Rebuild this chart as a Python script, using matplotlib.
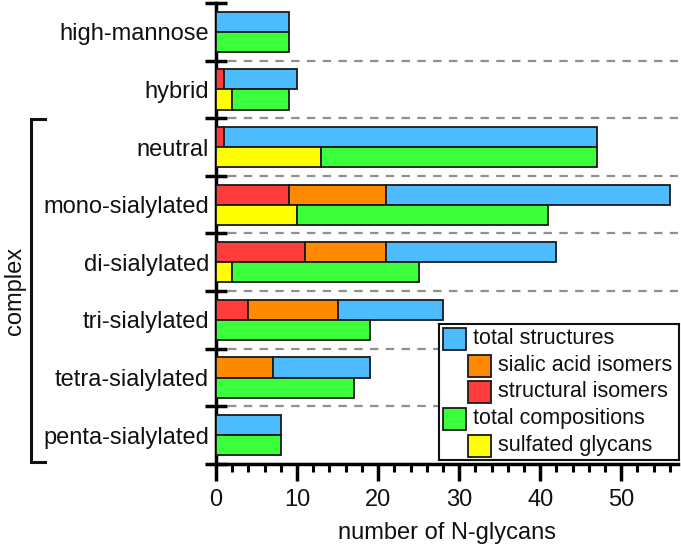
import numpy as np
import matplotlib
matplotlib.use('Agg')
import matplotlib.pyplot as plt
from matplotlib.patches import Rectangle
from matplotlib.ticker import MultipleLocator, FixedLocator

plt.rcParams['font.family'] = ['Liberation Sans', 'DejaVu Sans']

categories = ['high-mannose', 'hybrid', 'neutral', 'mono-sialylated',
              'di-sialylated', 'tri-sialylated', 'tetra-sialylated',
              'penta-sialylated']
structural_isomers = [0, 1, 1, 9, 11, 4, 0, 0]
sialic_acid_isomers = [0, 0, 0, 12, 10, 11, 7, 0]
total_structures = [9, 10, 47, 56, 42, 28, 19, 8]
sulfated_glycans = [0, 2, 13, 10, 2, 0, 0, 0]
total_compositions = [9, 9, 47, 41, 25, 19, 17, 8]

BLUE = '#4dbcff'
ORANGE = '#ff8a00'
RED = '#ff3c3c'
GREEN = '#3cff3c'
YELLOW = '#ffff00'

legend_items = [('total structures', BLUE, False),
                ('sialic acid isomers', ORANGE, True),
                ('structural isomers', RED, True),
                ('total compositions', GREEN, False),
                ('sulfated glycans', YELLOW, True)]

FS = 17
EDGE = dict(edgecolor='#1a1a1a', linewidth=1.3)


def draw_segments(ax, y, left, width, color):
    y = np.asarray(y, float)
    width = np.asarray(width, float)
    left = np.broadcast_to(np.asarray(left, float), width.shape)
    keep = width > 0
    ax.barh(y[keep], width[keep], left=left[keep], height=0.35,
            color=color, zorder=3, **EDGE)


fig = plt.figure(figsize=(6.81, 5.46), dpi=100)
ax = fig.add_axes([0.3172, 0.1502, 0.6784, 0.8443])

pos = np.arange(len(categories))
top = pos - 0.175
bot = pos + 0.175

red = np.array(structural_isomers)
orange = np.array(sialic_acid_isomers)
blue_total = np.array(total_structures)
yellow = np.array(sulfated_glycans)
green_total = np.array(total_compositions)

draw_segments(ax, top, 0, red, RED)
draw_segments(ax, top, red, orange, ORANGE)
draw_segments(ax, top, red + orange, blue_total - red - orange, BLUE)
draw_segments(ax, bot, 0, yellow, YELLOW)
draw_segments(ax, bot, yellow, green_total - yellow, GREEN)

ax.set_xlim(0, 57)
ax.set_ylim(len(categories) - 0.5, -0.5)

# separators between groups
for b in np.arange(0.5, len(categories) - 0.5):
    ax.axhline(b, xmin=0.025, xmax=1.0, color='#909090', lw=1.6,
               dashes=(3.8, 3.3), zorder=1, clip_on=False)

for s in ['top', 'right']:
    ax.spines[s].set_visible(False)
for s in ['left', 'bottom']:
    ax.spines[s].set_linewidth(2.5)
    ax.spines[s].set_color('black')

ax.xaxis.set_major_locator(MultipleLocator(10))
ax.xaxis.set_minor_locator(MultipleLocator(2))
ax.tick_params(axis='x', which='major', direction='out', length=12, width=2.5,
               labelsize=FS, pad=6, colors='black', labelcolor='#111111')
ax.tick_params(axis='x', which='minor', direction='out', length=6, width=2.2)

ax.yaxis.set_major_locator(FixedLocator(np.arange(-0.5, len(categories))))
ax.yaxis.set_major_formatter(plt.NullFormatter())
ax.yaxis.set_minor_locator(FixedLocator(pos))
ax.set_yticklabels(categories, minor=True)
ax.tick_params(axis='y', which='major', direction='inout', length=16, width=2.5)
ax.tick_params(axis='y', which='minor', length=0, labelsize=FS, pad=5,
               labelcolor='#111111')

ax.set_xlabel('number of N-glycans', fontsize=FS, color='#111111', labelpad=8)

# bracket for complex glycans
tr = ax.get_yaxis_transform()
ax.plot([-0.370, -0.400, -0.400, -0.370], [1.52, 1.52, 7.47, 7.47],
        transform=tr, color='#111111', lw=2.2, clip_on=False,
        solid_joinstyle='miter')
ax.text(-0.435, 4.5, 'complex', transform=tr, rotation=90, fontsize=FS,
        ha='center', va='center', color='#111111')

# legend with indented sub-entries
lg = ax.inset_axes([0.4827, 0.0087, 0.5195, 0.295])
lg.set_xlim(0, 240)
lg.set_ylim(136, 0)
lg.set_xticks([])
lg.set_yticks([])
for s in lg.spines.values():
    s.set_linewidth(1.5)
    s.set_color('#111111')
row_y = [15, 42, 68, 95, 122]
for (label, color, indent), yc in zip(legend_items, row_y):
    x0 = 29 if indent else 4
    lg.add_patch(Rectangle((x0, yc - 11), 23, 22, facecolor=color,
                           edgecolor='#1a1a1a', linewidth=1.3))
    lg.text(x0 + 30, yc, label, fontsize=15.5, va='center', ha='left',
            color='#111111')

fig.savefig('out.png', dpi=100)
